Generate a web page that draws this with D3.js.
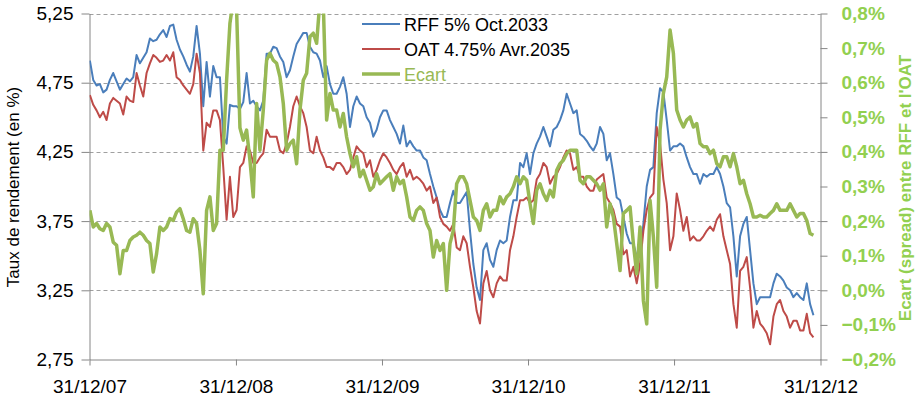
<!DOCTYPE html>
<html>
<head>
<meta charset="utf-8">
<script src="https://cdn.jsdelivr.net/npm/d3@7"></script>
<style>
  body { margin: 0; background: #fff; }
  svg { display: block; font-family: "Liberation Sans", Arial, sans-serif; }
</style>
</head>
<body>
<svg id="chart" width="919" height="398"></svg>
<script>
// séries (un point toutes les 200 heures à partir du 01/01/2008)
const startDate = new Date(2008, 0, 1);
const stepHours = 200;

const rff = [
  4.91,4.77,4.73,4.74,4.68,4.70,4.77,4.82,4.76,4.70,4.74,4.78,4.76,4.79,4.95,4.89,4.93,4.97,5.07,5.05,
  5.06,5.10,5.13,5.08,5.16,5.17,5.06,4.99,4.94,4.88,4.83,4.94,5.16,4.96,4.58,4.90,4.65,
  4.87,4.79,4.79,4.36,4.31,4.59,4.58,4.58,4.56,4.61,4.82,4.60,4.62,4.58,4.55,4.62,4.96,4.96,5.01,5.00,
  4.94,4.90,4.79,4.84,4.94,5.03,5.07,5.11,5.11,5.01,4.97,4.96,4.91,4.79,4.87,4.74,4.67,
  4.67,4.72,4.79,4.67,4.43,4.58,4.65,4.60,4.58,4.50,4.46,4.36,4.41,4.50,4.55,4.55,4.48,4.43,4.38,4.31,
  4.44,4.29,4.33,4.29,4.26,4.26,4.21,4.19,4.09,4.00,3.92,3.83,3.78,3.78,3.88,3.97,
  3.88,3.88,3.92,3.96,3.68,3.44,3.27,3.18,3.54,3.59,3.47,3.42,3.54,3.61,3.59,3.61,3.78,3.90,3.90,4.17,
  4.14,4.24,4.09,4.24,4.31,4.36,4.43,4.36,4.29,4.41,4.43,4.48,4.55,4.67,4.60,4.53,
  4.55,4.38,4.36,4.33,4.29,4.26,4.31,4.43,4.38,4.19,4.24,4.09,3.92,3.90,3.78,3.66,3.59,3.59,3.49,3.51,
  3.73,4.00,4.12,4.14,4.53,4.71,4.68,4.48,4.26,4.29,4.29,4.31,4.29,4.21,4.14,4.09,4.09,
  4.02,4.09,4.07,4.09,4.09,4.14,4.09,4.00,3.88,3.85,3.64,3.35,3.64,3.73,3.78,3.54,3.30,3.15,3.20,3.20,
  3.20,3.20,3.30,3.37,3.35,3.32,3.27,3.25,3.20,3.23,3.20,3.18,3.30,3.15,3.07
];

const oat = [
  4.66,4.59,4.55,4.50,4.54,4.48,4.60,4.64,4.62,4.60,4.52,4.65,4.62,4.61,4.82,4.73,4.65,4.82,4.89,4.95,
  4.93,4.90,4.91,4.95,4.91,4.97,4.79,4.77,4.73,4.70,4.67,4.74,4.96,4.82,4.26,4.46,4.43,
  4.55,4.55,4.48,4.14,3.76,4.07,3.78,3.83,4.14,4.17,4.29,4.26,4.17,4.17,4.21,4.24,4.41,4.36,4.36,4.36,
  4.26,4.24,4.31,4.43,4.58,4.65,4.58,4.53,4.43,4.26,4.24,4.36,4.26,4.21,4.14,4.14,4.12,
  4.17,4.17,4.14,4.09,4.12,4.21,4.29,4.26,4.24,4.14,4.19,4.07,4.12,4.19,4.24,4.21,4.17,4.12,4.09,4.14,
  4.17,4.07,4.12,4.05,4.07,4.05,4.02,3.97,4.00,3.88,3.92,3.78,3.73,3.71,3.68,3.73,
  3.56,3.54,3.64,3.59,3.42,3.27,3.10,3.01,3.30,3.39,3.25,3.20,3.30,3.35,3.32,3.32,3.54,3.64,3.78,3.90,
  3.90,3.92,3.88,3.90,4.05,4.09,4.17,4.14,4.02,4.07,4.09,4.14,4.21,4.26,4.24,4.12,
  4.14,4.07,4.07,4.00,3.97,3.97,4.05,4.07,4.09,3.92,3.88,3.83,3.73,3.71,3.51,3.54,3.35,3.42,3.30,3.44,
  3.68,3.83,3.92,3.95,4.43,4.31,4.05,3.88,3.54,3.64,3.95,3.83,3.68,3.78,3.61,3.64,3.61,
  3.61,3.64,3.68,3.71,3.68,3.76,3.80,3.64,3.54,3.44,3.15,2.98,3.39,3.42,3.49,3.27,2.98,3.10,3.01,2.98,
  2.94,2.86,3.06,3.15,3.18,3.10,3.06,2.98,3.03,3.03,2.96,2.96,3.08,2.94,2.91
];

const ecart = [
  0.231,0.183,0.193,0.178,0.173,0.193,0.183,0.139,0.130,0.048,0.115,0.115,0.144,0.154,0.159,0.168,0.159,0.144,0.135,0.053,
  0.106,0.183,0.173,0.183,0.207,0.202,0.226,0.236,0.207,0.173,0.168,0.207,0.193,0.115,-0.010,0.231,0.270,
  0.173,0.193,0.405,0.405,0.607,0.772,0.839,0.810,0.470,0.434,0.463,0.376,0.270,0.540,0.405,0.521,0.665,0.685,0.665,0.656,
  0.617,0.540,0.405,0.424,0.434,0.366,0.521,0.607,0.627,0.733,0.743,0.714,0.839,0.829,0.492,0.569,0.521,
  0.521,0.472,0.511,0.443,0.395,0.357,0.386,0.328,0.347,0.318,0.289,0.299,0.337,0.308,0.318,0.328,0.337,0.289,0.328,0.308,
  0.318,0.270,0.212,0.202,0.231,0.241,0.231,0.193,0.173,0.096,0.144,0.115,0.135,0.000,0.135,0.173,
  0.308,0.328,0.328,0.308,0.260,0.212,0.202,0.173,0.231,0.250,0.212,0.231,0.231,0.270,0.250,0.270,0.279,0.299,0.328,0.308,
  0.328,0.318,0.250,0.193,0.289,0.308,0.279,0.260,0.289,0.270,0.347,0.366,0.376,0.395,0.405,0.405,
  0.405,0.318,0.308,0.328,0.328,0.318,0.308,0.289,0.308,0.183,0.250,0.212,0.135,0.057,0.222,0.231,0.241,0.135,0.048,0.183,
  -0.030,-0.097,0.260,0.154,0.009,0.463,0.569,0.617,0.752,0.685,0.521,0.492,0.472,0.492,0.501,0.472,0.482,
  0.424,0.415,0.415,0.395,0.405,0.366,0.357,0.386,0.386,0.357,0.395,0.357,0.308,0.318,0.279,0.250,0.212,0.212,0.217,0.212,
  0.212,0.222,0.231,0.250,0.231,0.231,0.231,0.250,0.231,0.212,0.222,0.222,0.202,0.164,0.159
];

const seriesNames = ["RFF 5% Oct.2033", "OAT 4.75% Avr.2035", "Ecart"];
const yearTicks = [2007, 2008, 2009, 2010, 2011, 2012];
const leftTicks = [2.75, 3.25, 3.75, 4.25, 4.75, 5.25];
const rightTicks = [-0.2, -0.1, 0.0, 0.1, 0.2, 0.3, 0.4, 0.5, 0.6, 0.7, 0.8];

const colBlue = "#4a7ebb", colRed = "#be4b48", colGreen = "#98b954";
const colAxisGreen = "#92d050", colAxis = "#868686";

const svg = d3.select("#chart");
const plotLeft = 89.5, plotRight = 820.5, plotTop = 13.5, plotBottom = 359.5;

const dates = rff.map((_, i) => d3.timeHour.offset(startDate, i * stepHours));

const x = d3.scaleTime()
  .domain([new Date(2007, 11, 31), new Date(2012, 11, 31)])
  .range([plotLeft, plotRight]);
const y = d3.scaleLinear().domain([2.75, 5.25]).range([plotBottom, plotTop]);
const y2 = d3.scaleLinear().domain([-0.2, 0.8]).range([plotBottom, plotTop]);

svg.append("defs").append("clipPath").attr("id", "plot")
  .append("rect").attr("x", plotLeft).attr("y", plotTop)
  .attr("width", plotRight - plotLeft).attr("height", plotBottom - plotTop);

// lignes de grille en pointillés
svg.append("g").selectAll("line")
  .data(leftTicks.filter((d) => d > 2.75))
  .enter().append("line")
  .attr("x1", plotLeft).attr("x2", plotRight)
  .attr("y1", (d) => Math.round(y(d)) + 0.5).attr("y2", (d) => Math.round(y(d)) + 0.5)
  .style("stroke", "#a0a0a0")
  .style("stroke-dasharray", "4,3");

const comma = (f) => (d) => d3.format(f)(d).replace(".", ",");

// axe des x
const xAxis = svg.append("g")
  .attr("transform", `translate(0,${plotBottom})`)
  .call(d3.axisBottom(x)
    .tickValues(yearTicks.map((yr) => new Date(yr, 11, 31)))
    .tickFormat(d3.timeFormat("%d/%m/%y"))
    .tickSize(6).tickSizeOuter(0).tickPadding(14));

// axe de gauche
const yAxis = svg.append("g")
  .attr("transform", `translate(${plotLeft},0)`)
  .call(d3.axisLeft(y).tickValues(leftTicks).tickFormat(comma(".2f"))
    .tickSize(8).tickSizeOuter(0).tickPadding(8));

// axe de droite (écart)
const y2Axis = svg.append("g")
  .attr("transform", `translate(${plotRight},0)`)
  .call(d3.axisRight(y2).tickValues(rightTicks).tickFormat((d) => comma(".1f")(d) + "%")
    .tickSize(7).tickSizeOuter(0).tickPadding(14));

[xAxis, yAxis, y2Axis].forEach((a) => {
  a.selectAll(".domain, .tick line").style("stroke", colAxis);
  a.selectAll("text")
    .style("font-family", '"Liberation Sans", Arial, sans-serif')
    .style("font-size", "19px")
    .style("fill", "#000");
});
y2Axis.selectAll("text").style("fill", colAxisGreen).style("font-weight", "bold")
  .attr("text-anchor", "start");

// courbes
const plot = svg.append("g").attr("clip-path", "url(#plot)");

const lineLeft = d3.line()
  .x((d, i) => x(dates[i]))
  .y((d) => y(d));
const lineRight = d3.line()
  .x((d, i) => x(dates[i]))
  .y((d) => y2(d));

plot.append("path").attr("d", lineLeft(rff))
  .style("fill", "none").style("stroke", colBlue).style("stroke-width", 2)
  .style("stroke-linejoin", "round");
plot.append("path").attr("d", lineLeft(oat))
  .style("fill", "none").style("stroke", colRed).style("stroke-width", 2)
  .style("stroke-linejoin", "round");
plot.append("path").attr("d", lineRight(ecart))
  .style("fill", "none").style("stroke", colGreen).style("stroke-width", 3.5)
  .style("stroke-linejoin", "round");

// légende
const legend = svg.append("g");
const legendColors = [colBlue, colRed, colGreen];
const legendWidths = [2, 2, 3.5];
seriesNames.forEach((name, i) => {
  const ly = 24 + i * 25;
  legend.append("line")
    .attr("x1", 362).attr("x2", 400).attr("y1", ly).attr("y2", ly)
    .style("stroke", legendColors[i]).style("stroke-width", legendWidths[i]);
  legend.append("text")
    .attr("x", 404).attr("y", ly + 6.5)
    .style("font-size", "18px")
    .style("fill", i === 2 ? colGreen : "#000")
    .text(name);
});

// titres des axes
svg.append("text")
  .attr("transform", "translate(13,187) rotate(-90)")
  .attr("text-anchor", "middle").attr("dy", "0.35em")
  .style("font-size", "17px")
  .text("Taux de rendement (en %)");

svg.append("text")
  .attr("transform", "translate(905,188) rotate(-90)")
  .attr("text-anchor", "middle").attr("dy", "0.35em")
  .style("font-size", "17px").style("font-weight", "bold")
  .style("fill", colAxisGreen)
  .text("Ecart (spread) entre RFF et l'OAT");
</script>
</body>
</html>
